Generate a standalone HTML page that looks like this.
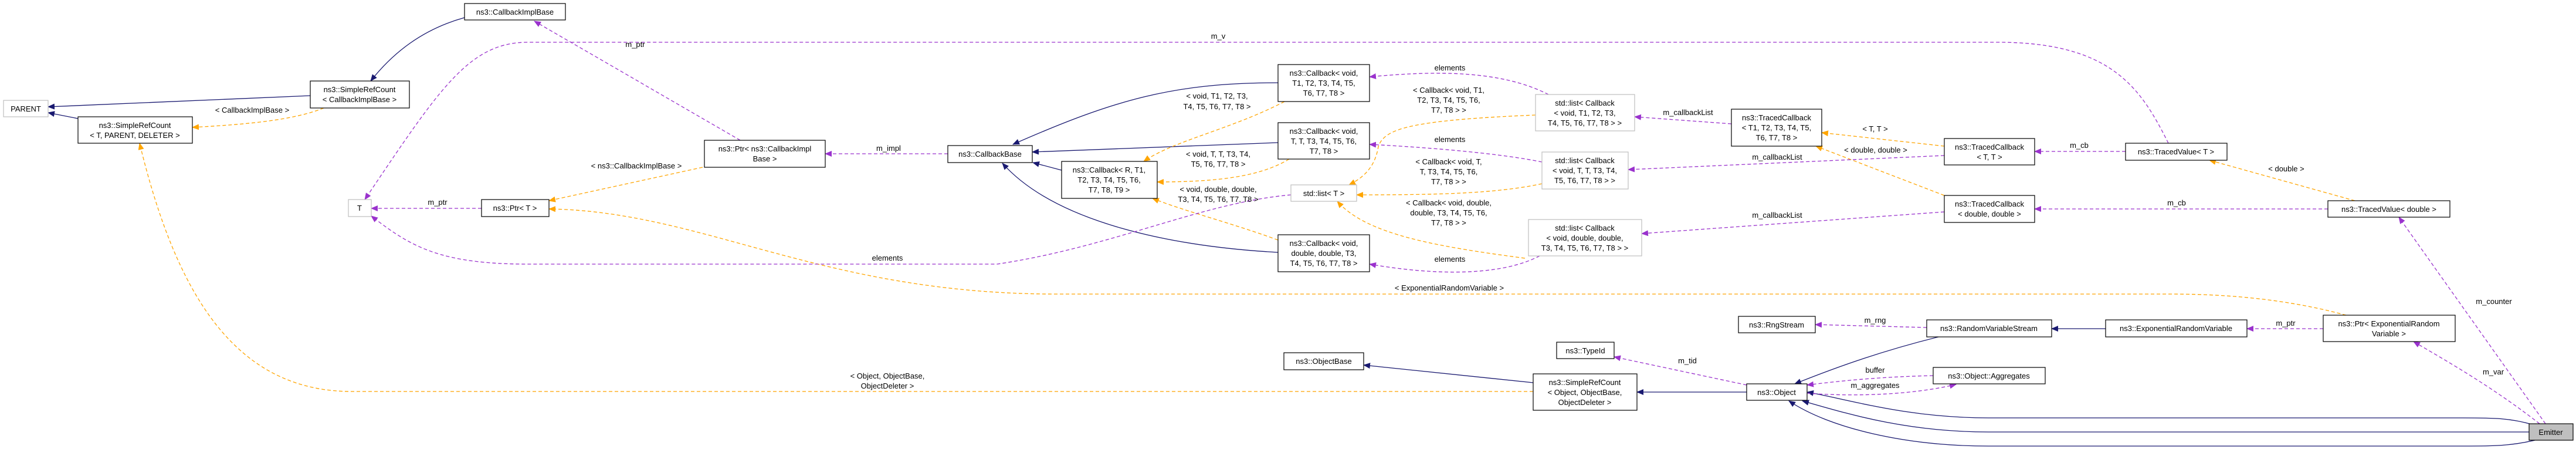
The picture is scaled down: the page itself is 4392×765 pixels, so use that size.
<!DOCTYPE html>
<html><head><meta charset="utf-8"><style>
html,body{margin:0;padding:0;background:#fff;width:4392px;height:765px;overflow:hidden}
svg text{font-family:"Liberation Sans",sans-serif;font-size:13px;fill:#000}
.n{fill:#fff;stroke:#000;stroke-width:1.2}
.g{fill:#fff;stroke:#bfbfbf;stroke-width:1.2}
.nv{fill:none;stroke:#191970;stroke-width:1.3}
.pu{fill:none;stroke:#9a32cd;stroke-width:1.3;stroke-dasharray:6,4}
.or{fill:none;stroke:#ffa500;stroke-width:1.3;stroke-dasharray:6,4}
</style></head><body>
<svg width="4392" height="765" xmlns="http://www.w3.org/2000/svg">
<defs>
<marker id="an" markerWidth="12" markerHeight="10" refX="11" refY="5" orient="auto" markerUnits="userSpaceOnUse"><path d="M0,0 L12,5 L0,10 z" fill="#191970"/></marker>
<marker id="ap" markerWidth="12" markerHeight="10" refX="11" refY="5" orient="auto" markerUnits="userSpaceOnUse"><path d="M0,0 L12,5 L0,10 z" fill="#9a32cd"/></marker>
<marker id="ao" markerWidth="12" markerHeight="10" refX="11" refY="5" orient="auto" markerUnits="userSpaceOnUse"><path d="M0,0 L12,5 L0,10 z" fill="#ffa500"/></marker>
</defs>

<!-- inheritance -->
<g marker-end="url(#an)">
<path class="nv" d="M529,163 L82,182"/>
<path class="nv" d="M133,202 L82,192"/>
<path class="nv" d="M792,30 C720,50 670,90 632,138"/>
<path class="nv" d="M2179,141 C2000,141 1900,170 1727,246"/>
<path class="nv" d="M2179,243 L1760,259"/>
<path class="nv" d="M1810,290 L1761,277"/>
<path class="nv" d="M2179,430 C2000,420 1800,380 1709,278"/>
<path class="nv" d="M2614,652 L2325,622"/>
<path class="nv" d="M2978,668 L2791,668"/>
<path class="nv" d="M3305,574 C3200,600 3120,630 3060,654"/>
<path class="nv" d="M3590,560 L3498,560"/>
<path class="nv" d="M4320,724 C4280,712 4250,712 4200,712 L3390,712 C3250,712 3150,680 3081,668"/>
<path class="nv" d="M4312,736 L3390,736 C3250,736 3150,705 3073,683"/>
<path class="nv" d="M4322,750 C4280,760 4250,760 4200,760 L3390,760 C3250,760 3120,730 3050,683"/>
</g>

<!-- templates -->
<g marker-end="url(#ao)">
<path class="or" d="M552,184 C500,205 420,212 328,217"/>
<path class="or" d="M2614,667 L600,667 C400,667 300,500 238,244"/>
<path class="or" d="M1198,285 L936,342"/>
<path class="or" d="M4000,537 C3900,510 3800,501 3700,501 L1800,501 C1400,501 1200,360 936,356"/>
<path class="or" d="M2190,173 C2100,220 2000,240 1950,275"/>
<path class="or" d="M2198,271 C2150,300 2080,310 1973,310"/>
<path class="or" d="M2179,409 C2100,380 2020,360 1965,338"/>
<path class="or" d="M2618,196 C2400,205 2360,220 2350,250 C2345,280 2330,300 2300,315"/>
<path class="or" d="M2629,313 C2550,330 2450,332 2313,332"/>
<path class="or" d="M2600,440 C2450,420 2330,400 2280,343"/>
<path class="or" d="M3315,249 L3106,226"/>
<path class="or" d="M3315,333 L3096,249"/>
<path class="or" d="M4015,342 L3767,273"/>
</g>

<!-- members -->
<g marker-end="url(#ap)">
<path class="pu" d="M1262,239 L911,36"/>
<path class="pu" d="M1616,262 L1407,262"/>
<path class="pu" d="M821,355 L633,355"/>
<path class="pu" d="M3697,244 C3650,150 3600,72 3406,72 L900,72 C800,72 750,150 622,340"/>
<path class="pu" d="M2201,332 C2050,345 1900,420 1700,450 L900,450 C750,450 700,420 633,368"/>
<path class="pu" d="M2640,161 C2560,120 2450,120 2335,131"/>
<path class="pu" d="M2629,276 C2560,262 2450,252 2335,246"/>
<path class="pu" d="M2625,436 C2560,470 2450,470 2335,450"/>
<path class="pu" d="M2952,211 L2787,199"/>
<path class="pu" d="M3315,265 L2776,289"/>
<path class="pu" d="M3315,361 L2799,398"/>
<path class="pu" d="M3624,258 L3469,258"/>
<path class="pu" d="M3969,356 L3469,356"/>
<path class="pu" d="M4340,722 L4090,370"/>
<path class="pu" d="M4330,722 C4250,660 4180,620 4115,582"/>
<path class="pu" d="M3961,560 L3831,560"/>
<path class="pu" d="M3285,558 L3095,553"/>
<path class="pu" d="M2978,656 L2752,608"/>
<path class="pu" d="M3296,640 C3200,642 3130,650 3081,656"/>
<path class="pu" d="M3081,670 C3150,675 3250,675 3335,655"/>
</g>

<!-- edge labels -->
<g text-anchor="middle" font-size="12">
<text x="430" y="192">&lt; CallbackImplBase &gt;</text>
<text x="1083" y="80">m_ptr</text>
<text x="1085" y="287">&lt; ns3::CallbackImplBase &gt;</text>
<text x="1515" y="257">m_impl</text>
<text x="746" y="349">m_ptr</text>
<text x="2077" y="66">m_v</text>
<text x="1513" y="444">elements</text>
<text x="1513" y="645">&lt; Object, ObjectBase,</text>
<text x="1513" y="662">ObjectDeleter &gt;</text>
<text x="2471" y="495">&lt; ExponentialRandomVariable &gt;</text>
<text x="2075" y="168">&lt; void, T1, T2, T3,</text>
<text x="2075" y="186">T4, T5, T6, T7, T8 &gt;</text>
<text x="2077" y="267">&lt; void, T, T, T3, T4,</text>
<text x="2077" y="284">T5, T6, T7, T8 &gt;</text>
<text x="2077" y="327">&lt; void, double, double,</text>
<text x="2077" y="344">T3, T4, T5, T6, T7, T8 &gt;</text>
<text x="2472" y="120">elements</text>
<text x="2470" y="158">&lt; Callback&lt; void, T1,</text>
<text x="2470" y="175">T2, T3, T4, T5, T6,</text>
<text x="2470" y="192">T7, T8 &gt; &gt;</text>
<text x="2472" y="242">elements</text>
<text x="2470" y="280">&lt; Callback&lt; void, T,</text>
<text x="2470" y="297">T, T3, T4, T5, T6,</text>
<text x="2470" y="314">T7, T8 &gt; &gt;</text>
<text x="2470" y="350">&lt; Callback&lt; void, double,</text>
<text x="2470" y="367">double, T3, T4, T5, T6,</text>
<text x="2470" y="384">T7, T8 &gt; &gt;</text>
<text x="2472" y="446">elements</text>
<text x="2878" y="196">m_callbackList</text>
<text x="3030" y="272">m_callbackList</text>
<text x="3030" y="371">m_callbackList</text>
<text x="3197" y="224">&lt; T, T &gt;</text>
<text x="3198" y="260">&lt; double, double &gt;</text>
<text x="3545" y="252">m_cb</text>
<text x="3711" y="350">m_cb</text>
<text x="3898" y="292">&lt; double &gt;</text>
<text x="4252" y="518">m_counter</text>
<text x="4251" y="638">m_var</text>
<text x="3897" y="555">m_ptr</text>
<text x="3197" y="550">m_rng</text>
<text x="2877" y="619">m_tid</text>
<text x="3197" y="635">buffer</text>
<text x="3197" y="661">m_aggregates</text>
</g>

<!-- nodes -->
<g text-anchor="middle">
<rect class="g" x="6" y="171" width="76" height="28"/><text x="44" y="190">PARENT</text>
<rect class="n" x="133" y="199" width="195" height="45"/><text x="230" y="218">ns3::SimpleRefCount</text><text x="230" y="235">&lt; T, PARENT, DELETER &gt;</text>
<rect class="n" x="529" y="138" width="169" height="46"/><text x="613" y="157">ns3::SimpleRefCount</text><text x="613" y="174">&lt; CallbackImplBase &gt;</text>
<rect class="n" x="792" y="6" width="172" height="28"/><text x="878" y="25">ns3::CallbackImplBase</text>
<rect class="g" x="594" y="340" width="39" height="29"/><text x="613" y="359">T</text>
<rect class="n" x="821" y="340" width="115" height="29"/><text x="878" y="359">ns3::Ptr&lt; T &gt;</text>
<rect class="n" x="1201" y="239" width="206" height="46"/><text x="1304" y="258">ns3::Ptr&lt; ns3::CallbackImpl</text><text x="1304" y="275">Base &gt;</text>
<rect class="n" x="1616" y="248" width="144" height="29"/><text x="1688" y="267">ns3::CallbackBase</text>
<rect class="n" x="1810" y="275" width="163" height="63"/><text x="1891" y="294">ns3::Callback&lt; R, T1,</text><text x="1891" y="311">T2, T3, T4, T5, T6,</text><text x="1891" y="328">T7, T8, T9 &gt;</text>
<rect class="n" x="2179" y="110" width="156" height="63"/><text x="2257" y="129">ns3::Callback&lt; void,</text><text x="2257" y="146">T1, T2, T3, T4, T5,</text><text x="2257" y="163">T6, T7, T8 &gt;</text>
<rect class="n" x="2179" y="209" width="156" height="62"/><text x="2257" y="228">ns3::Callback&lt; void,</text><text x="2257" y="245">T, T, T3, T4, T5, T6,</text><text x="2257" y="262">T7, T8 &gt;</text>
<rect class="n" x="2179" y="400" width="156" height="63"/><text x="2257" y="419">ns3::Callback&lt; void,</text><text x="2257" y="436">double, double, T3,</text><text x="2257" y="453">T4, T5, T6, T7, T8 &gt;</text>
<rect class="g" x="2201" y="315" width="112" height="28"/><text x="2257" y="334">std::list&lt; T &gt;</text>
<rect class="g" x="2618" y="161" width="169" height="62"/><text x="2702" y="180">std::list&lt; Callback</text><text x="2702" y="197">&lt; void, T1, T2, T3,</text><text x="2702" y="214">T4, T5, T6, T7, T8 &gt; &gt;</text>
<rect class="g" x="2629" y="259" width="147" height="63"/><text x="2702" y="278">std::list&lt; Callback</text><text x="2702" y="295">&lt; void, T, T, T3, T4,</text><text x="2702" y="312">T5, T6, T7, T8 &gt; &gt;</text>
<rect class="g" x="2606" y="374" width="193" height="62"/><text x="2702" y="393">std::list&lt; Callback</text><text x="2702" y="410">&lt; void, double, double,</text><text x="2702" y="427">T3, T4, T5, T6, T7, T8 &gt; &gt;</text>
<rect class="n" x="2952" y="186" width="154" height="63"/><text x="3029" y="205">ns3::TracedCallback</text><text x="3029" y="222">&lt; T1, T2, T3, T4, T5,</text><text x="3029" y="239">T6, T7, T8 &gt;</text>
<rect class="n" x="3315" y="236" width="154" height="45"/><text x="3392" y="255">ns3::TracedCallback</text><text x="3392" y="272">&lt; T, T &gt;</text>
<rect class="n" x="3315" y="333" width="154" height="46"/><text x="3392" y="352">ns3::TracedCallback</text><text x="3392" y="369">&lt; double, double &gt;</text>
<rect class="n" x="3624" y="244" width="173" height="29"/><text x="3710" y="263">ns3::TracedValue&lt; T &gt;</text>
<rect class="n" x="3969" y="342" width="208" height="28"/><text x="4073" y="361">ns3::TracedValue&lt; double &gt;</text>
<rect class="n" x="2189" y="601" width="136" height="29"/><text x="2257" y="620">ns3::ObjectBase</text>
<rect class="n" x="2614" y="637" width="177" height="62"/><text x="2702" y="656">ns3::SimpleRefCount</text><text x="2702" y="673">&lt; Object, ObjectBase,</text><text x="2702" y="690">ObjectDeleter &gt;</text>
<rect class="n" x="2654" y="583" width="98" height="28"/><text x="2703" y="602">ns3::TypeId</text>
<rect class="n" x="2964" y="539" width="131" height="28"/><text x="3029" y="558">ns3::RngStream</text>
<rect class="n" x="3285" y="545" width="213" height="29"/><text x="3391" y="564">ns3::RandomVariableStream</text>
<rect class="n" x="2978" y="654" width="103" height="28"/><text x="3029" y="673">ns3::Object</text>
<rect class="n" x="3296" y="626" width="191" height="28"/><text x="3391" y="645">ns3::Object::Aggregates</text>
<rect class="n" x="3590" y="545" width="241" height="29"/><text x="3710" y="564">ns3::ExponentialRandomVariable</text>
<rect class="n" x="3961" y="537" width="225" height="45"/><text x="4073" y="556">ns3::Ptr&lt; ExponentialRandom</text><text x="4073" y="573">Variable &gt;</text>
<rect x="4312" y="722" width="75" height="28" fill="#bfbfbf" stroke="#000" stroke-width="1.2"/><text x="4349" y="741">Emitter</text>
</g>
</svg>
</body></html>
